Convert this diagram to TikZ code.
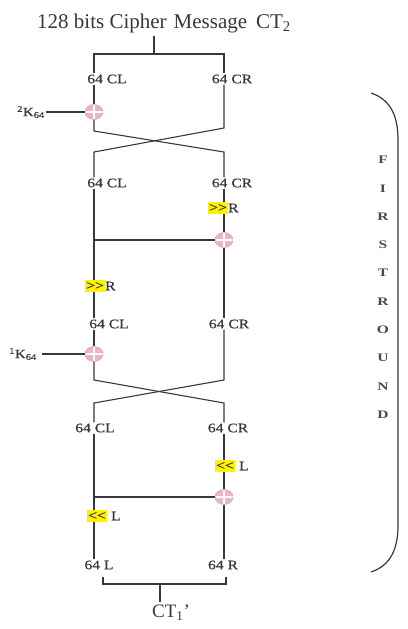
\documentclass[tikz,border=0pt]{standalone}
\usepackage{fontspec}
\setmainfont{Liberation Serif}
\newfontfamily\widefont[FakeStretch=1.2,FakeBold=0.6]{Liberation Serif}
\newfontfamily\roundfont[FakeStretch=1.35]{Liberation Serif}
\usepackage{tikz}
\usetikzlibrary{shapes.geometric}
\definecolor{wirecol}{HTML}{383838}
\definecolor{xorpink}{HTML}{EDB5BC}
\definecolor{xorrim}{HTML}{D7959F}
\definecolor{hilite}{HTML}{FFF200}
\definecolor{roundtxt}{HTML}{4A4A4A}

\begin{document}
\begin{tikzpicture}[x=1pt,y=-1pt]
\tikzstyle{wire}=[draw=wirecol,line width=1.1pt]
\tikzstyle{halflbl}=[font=\widefont\fontsize{13}{13}\selectfont,text=wirecol,inner sep=1pt]
\tikzstyle{keylbl}=[font=\widefont\fontsize{12.5}{12.5}\selectfont,text=wirecol,inner sep=1pt]
\tikzstyle{shiftbox}=[fill=hilite,inner sep=1pt,minimum height=12pt,font=\widefont\fontsize{13}{13}\selectfont,text=wirecol]
\tikzstyle{shiftlbl}=[anchor=west,inner sep=0pt,font=\widefont\fontsize{13}{13}\selectfont,text=wirecol]
\tikzstyle{xor}=[ellipse,minimum width=18pt,minimum height=15pt,inner sep=0pt,fill=xorpink,draw=xorrim,
  path picture={\draw[white,line width=1.8pt] (path picture bounding box.north) -- (path picture bounding box.south)
    (path picture bounding box.west) -- (path picture bounding box.east);}]
\tikzstyle{roundlbl}=[font=\roundfont\bfseries\fontsize{11.5}{11.5}\selectfont,text=roundtxt,inner sep=0pt]
\useasboundingbox (0,0) rectangle (407,629);
\coordinate (xl) at (94,0);
\coordinate (xr) at (224,0);
% input block
\node[font=\fontsize{21}{21}\selectfont,text=wirecol] (title) at (164,23) {128 bits Cipher\hspace{7pt}Message\hspace{9pt}CT\textsubscript{2}};
\coordinate (split) at (154,54);
\node[halflbl] (cl1) at (107,79) {64 CL};
\node[halflbl] (cr1) at (232,79) {64 CR};
\draw[wire] (split |- title.south) -- (split);
\draw[wire] (xl |- cl1.north) |- (split) -| (xr |- cr1.north);
% key 2 and first swap
\node[xor] (xk2) at (94,112) {};
\node[keylbl] (k2) at (31,112) {\textsuperscript{2}K\textsubscript{64}};
\draw[wire] (k2) -- (xk2);
\draw[wire] (xl |- cl1.south) -- (xk2);
\node[halflbl] (cl2) at (107,183) {64 CL};
\node[halflbl] (cr2) at (232,183) {64 CR};
\draw[wire] (xk2.south) -- (94,131) -- (224,152) -- (xr |- cr2.north);
\draw[wire] (xr |- cr1.south) -- (224,128) -- (94,152) -- (xl |- cl2.north);
% right rotations
\node[shiftbox] (shr1) at (218,208) {>{}>};
\node[shiftlbl] (shr1r) at (shr1.east) {R};
\node[xor] (xor2) at (224,240) {};
\draw[wire] (xr |- cr2.south) -- (xr |- shr1.north);
\draw[wire] (xr |- shr1.south) -- (xor2);
\draw[wire] (xl |- xor2) -- (xor2.west);
\node[shiftbox] (shr2) at (95,286) {>{}>};
\node[shiftlbl] (shr2r) at (shr2.east) {R};
\node[halflbl] (cl3) at (109,324) {64 CL};
\node[halflbl] (cr3) at (229,324) {64 CR};
\draw[wire] (xl |- cl2.south) -- (xl |- shr2.north);
\draw[wire] (xl |- shr2.south) -- (xl |- cl3.north);
\draw[wire] (xor2.south) -- (xr |- cr3.north);
% key 1 and second swap
\node[xor] (xk1) at (94,354) {};
\node[keylbl] (k1) at (23,354) {\textsuperscript{1}K\textsubscript{64}};
\draw[wire] (k1.east) ++(4,0) -- (xk1);
\draw[wire] (xl |- cl3.south) -- (xk1);
\node[halflbl] (cl4) at (95,428) {64 CL};
\node[halflbl] (cr4) at (228,428) {64 CR};
\draw[wire] (xk1.south) -- (94,380) -- (224,403) -- (xr |- cr4.north);
\draw[wire] (xr |- cr3.south) -- (224,380) -- (94,403) -- (xl |- cl4.north);
% left rotations
\node[shiftbox] (shl1) at (225,466) {<{}<};
\node[shiftlbl] (shl1l) at (shl1.east) {\ L};
\node[xor] (xor4) at (224,497) {};
\draw[wire] (xr |- cr4.south) -- (xr |- shl1.north);
\draw[wire] (xr |- shl1.south) -- (xor4);
\draw[wire] (xl |- xor4) -- (xor4.west);
\node[shiftbox] (shl2) at (97,516) {<{}<};
\node[shiftlbl] (shl2l) at (shl2.east) {\ L};
\node[halflbl] (lout) at (99,565) {64 L};
\node[halflbl] (rout) at (223,565) {64 R};
\draw[wire] (xl |- cl4.south) -- (xl |- shl2.north);
\draw[wire] (xl |- shl2.south) -- (xl |- lout.north);
\draw[wire] (xor4.south) -- (xr |- rout.north);
% output
\coordinate (join) at (160,584);
\coordinate (bl) at (103,577);
\coordinate (br) at (226,577);
\node[font=\fontsize{19}{19}\selectfont,text=wirecol] (ct1) at (171,613) {CT\textsubscript{1}'};
\draw[wire] (bl) |- (join) -| (br);
\draw[wire] (join) -- (join |- ct1.north);
% round brace
\draw[draw=wirecol,line width=1.2pt] (371,93) .. controls (392,100) and (398,118) .. (398,140)
  -- (398,525) .. controls (398,547) and (392,565) .. (371,572);
\foreach \ch [count=\i from 0] in {F,I,R,S,T,R,O,U,N,D}
  \node[roundlbl] (rd\i) at (383,{160+28.3*\i}) {\ch};
\end{tikzpicture}
\end{document}
